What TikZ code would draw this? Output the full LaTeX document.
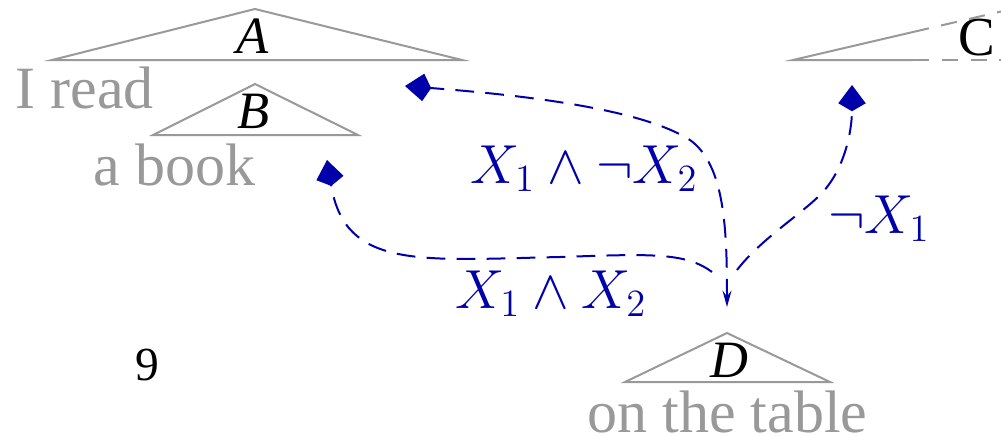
\RequirePackage{fix-cm}
\documentclass[tikz,border=0pt]{standalone}
\usepackage{fontspec}
\setmainfont{Liberation Serif}
\usetikzlibrary{arrows.meta}
\definecolor{tgray}{HTML}{999999}
\definecolor{tblue}{HTML}{0000AA}
\begin{document}
\begin{tikzpicture}[x=0.4pt,y=-0.4pt,
  tri/.style={draw=tgray,line width=0.8pt},
  tridash/.style={draw=tgray,line width=0.8pt,dash pattern=on 6.5pt off 5pt},
  word/.style={text=tgray,font=\fontsize{24}{28}\selectfont,inner sep=0pt},
  cat/.style={font=\fontsize{21}{24}\selectfont\itshape,inner sep=0pt},
  catup/.style={font=\fontsize{22}{24}\selectfont,inner sep=0pt},
  link/.style={draw=tblue,line width=0.8pt,dash pattern=on 7.5pt off 4.5pt},
  kite/.style={-{Kite[length=10.5pt,width=11pt,inset=3.2pt]}},
  lab/.style={text=tblue,font=\fontsize{22}{26}\selectfont,inner sep=0pt}]
\useasboundingbox (0,0) rectangle (1001,435);

% triangles
\draw[tri] (255,9) -- (52,60) -- (462,60) -- cycle;
\draw[tri] (255,84) -- (153,135) -- (358,135) -- cycle;
\draw[tri] (727,333) -- (625,382) -- (830,382) -- cycle;
\draw[tri] (913,32) -- (793,60) -- (913,60);
\draw[tridash] (913,32) -- (1001,11.5);
\draw[tridash] (913,60) -- (1001,60);

% category labels
\node[cat,anchor=base] (A) at (253,53) {A};
\node[cat,anchor=base] (B) at (254,128) {B};
\node[catup,anchor=base] (C) at (977,55) {C};
\node[cat,anchor=base] (D) at (729,377) {D};

% words
\node[word,anchor=base west] (w1) at (15,108) {I read};
\node[word,anchor=base west] (w2) at (93,185) {a book};
\node[word,anchor=base west] (w3) at (587,432) {on the table};

% page number
\node[catup,font=\fontsize{19}{22}\selectfont,anchor=base] (pg) at (147,380) {9};

% arrow end points
\coordinate (dA) at (727,307);
\coordinate (dB) at (712,272);
\coordinate (dC) at (737,270);
\coordinate (tA) at (405,86);
\coordinate (tB) at (327,160);
\coordinate (tC) at (852,85);

% connectors
\draw[link,{Stealth[length=6.6pt,width=3.6pt,inset=2.4pt]}-{Kite[length=10.5pt,width=11pt,inset=3.2pt]}]
  (dA) .. controls (727,230) and (725,165) .. (690,140)
       .. controls (640,108) and (520,95) .. (tA);
\draw[link,kite]
  (dB) .. controls (685,252) and (650,254) .. (560,257)
       .. controls (420,260) and (345,270) .. (tB);
\draw[link,kite]
  (dC) .. controls (760,240) and (800,215) .. (820,195)
       .. controls (845,170) and (852,130) .. (tC);

% condition labels
\node[lab,anchor=base] (l1) at (584,183) {$X_1\wedge\neg X_2$};
\node[lab,anchor=base] (l2) at (551,308) {$X_1\wedge X_2$};
\node[lab,anchor=base] (l3) at (879,233) {$\neg X_1$};
\end{tikzpicture}
\end{document}
